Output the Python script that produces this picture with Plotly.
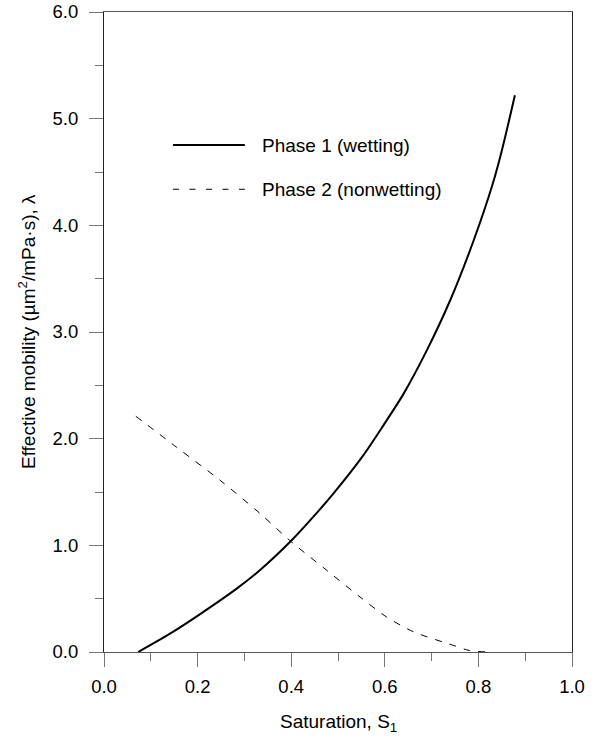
import plotly.graph_objects as go

# Phase 1 (wetting) – effective mobility vs saturation
s_wet = [0.073, 0.141, 0.2015, 0.2835, 0.333, 0.401, 0.447, 0.49, 0.554, 0.597, 0.64, 0.69, 0.74, 0.79, 0.83, 0.85, 0.878]
lam_wet = [0.0, 0.172, 0.344, 0.594, 0.766, 1.047, 1.266, 1.485, 1.844, 2.125, 2.42, 2.83, 3.30, 3.86, 4.38, 4.70, 5.22]

# Phase 2 (nonwetting)
s_nw = [0.068, 0.155, 0.248, 0.333, 0.401, 0.476, 0.547, 0.604, 0.661, 0.746, 0.78, 0.82]
lam_nw = [2.21, 1.92, 1.61, 1.30, 1.03, 0.766, 0.516, 0.328, 0.19, 0.063, 0.015, 0.0]

legend_names = ["Phase 1 (wetting)", "Phase 2 (nonwetting)"]
x_title = "Saturation, S<sub>1</sub>"
y_title = "Effective mobility (µm<sup>2</sup>/mPa·s), λ"

FONT = "Liberation Sans, Arial, Helvetica, sans-serif"
TXT = 19
TICK = 18.5

fig = go.Figure()
fig.add_trace(go.Scatter(x=s_wet, y=lam_wet, mode="lines",
                         line=dict(color="black", width=2, shape="spline", smoothing=0.8),
                         showlegend=False, name=legend_names[0]))
fig.add_trace(go.Scatter(x=s_nw, y=lam_nw, mode="lines",
                         line=dict(color="black", width=1, dash="7px,8px", shape="spline", smoothing=0.8),
                         showlegend=False, name=legend_names[1]))

# manual legend (longer line samples like the reference)
leg_y = [0.792, 0.723]
leg_dash = ["solid", "6px,10.5px"]
leg_w = [2, 1]
for name, yy, d, w in zip(legend_names, leg_y, leg_dash, leg_w):
    fig.add_shape(type="line", xref="paper", yref="paper", x0=0.1474, x1=0.301, y0=yy, y1=yy,
                  line=dict(color="black", width=w, dash=d))
    fig.add_annotation(xref="paper", yref="paper", x=0.333, y=yy, text=name, showarrow=False,
                       xanchor="left", yanchor="middle", font=dict(family=FONT, size=TXT, color="black"))

# axis titles
fig.add_annotation(xref="paper", yref="paper", x=0.5, y=-0.111, text=x_title, showarrow=False,
                   xanchor="center", yanchor="middle", font=dict(family=FONT, size=TXT, color="black"))
fig.add_annotation(xref="paper", yref="paper", x=-0.1645, y=0.5, text=y_title, showarrow=False,
                   textangle=-90, xanchor="center", yanchor="middle", font=dict(family=FONT, size=TXT, color="black"))

axis_common = dict(
    showline=True, linewidth=1, mirror=True,
    ticks="outside", ticklen=14, tickcolor="#777", tickwidth=1,
    showgrid=False, zeroline=False,
    tickfont=dict(family=FONT, size=TICK, color="black"),
    tickformat=".1f",
)

fig.update_xaxes(range=[0, 1], dtick=0.2, tick0=0, ticklabelstandoff=4, linecolor="#555",
                 minor=dict(dtick=0.1, ticklen=8, ticks="outside", tickcolor="#777"),
                 **axis_common)
fig.update_yaxes(range=[0, 6], dtick=1, tick0=0, ticklabelstandoff=7, linecolor="#222",
                 minor=dict(dtick=0.5, ticklen=8, ticks="outside", tickcolor="#777"),
                 **axis_common)

fig.update_layout(width=597, height=738, margin=dict(l=104, r=25, t=12, b=86, autoexpand=False),
                  plot_bgcolor="white", paper_bgcolor="white", showlegend=False)

fig.write_html("out.html")
